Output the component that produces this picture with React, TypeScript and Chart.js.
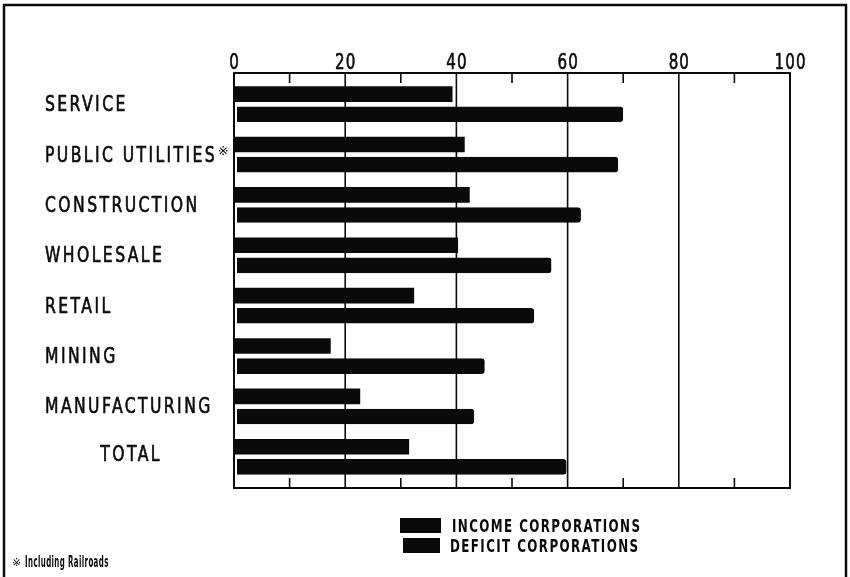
import React, { useEffect, useRef } from 'react';
import { Chart, registerables } from 'chart.js';

Chart.register(...registerables);

// ---- data ----
const categories = ['SERVICE', 'PUBLIC UTILITIES※', 'CONSTRUCTION', 'WHOLESALE', 'RETAIL', 'MINING', 'MANUFACTURING', 'TOTAL'];
const incomeValues = [39.3, 41.5, 42.4, 40.3, 32.4, 17.4, 22.7, 31.5];
const deficitValues = [70.0, 69.1, 62.4, 57.1, 54.0, 45.1, 43.2, 59.8];
const seriesLabels = ['INCOME CORPORATIONS', 'DEFICIT CORPORATIONS'];
const majorTickStep = 20;
const minorTickStep = 10;
const footnoteMark = '※';
const footnoteText = 'Including Railroads';
const totalLabel = 'TOTAL';

// ---- style ----
const INK = '#0a0a0a';
const FAMILY = '"DejaVu Sans", sans-serif';
const FRAME_PAD = 6;

type TextOpts = { size: number; weight?: string; sx: number; spacing: number; align?: 'left' | 'center'; thicken?: number };

function drawText(ctx: CanvasRenderingContext2D, text: string, x: number, y: number, o: TextOpts) {
  ctx.save();
  ctx.font = `${o.weight || 'normal'} ${o.size}px ${FAMILY}`;
  (ctx as any).letterSpacing = `${o.spacing}px`;
  ctx.textBaseline = 'alphabetic';
  ctx.textAlign = 'left';
  const w = (ctx.measureText(text).width - o.spacing) * o.sx;
  const startX = o.align === 'center' ? x - w / 2 : x;
  ctx.translate(startX, y);
  ctx.scale(o.sx, 1);
  ctx.fillStyle = INK;
  ctx.fillText(text, 0, 0);
  if (o.thicken) {
    ctx.strokeStyle = INK;
    ctx.lineWidth = o.thicken;
    ctx.lineJoin = 'round';
    ctx.strokeText(text, 0, 0);
  }
  ctx.restore();
  return w;
}

const LABEL_FONT: TextOpts = { size: 22, sx: 0.71, spacing: 3.4, thicken: 0.7 };
const TICK_FONT: TextOpts = { size: 21, sx: 0.72, spacing: 1.5, align: 'center', thicken: 0.6 };
const LEGEND_FONT: TextOpts = { size: 17, weight: 'bold', sx: 0.7, spacing: 2 };

const decorPlugin = {
  id: 'decor',
  beforeDraw(chart: any) {
    const ctx = chart.ctx;
    ctx.save();
    ctx.fillStyle = '#ffffff';
    ctx.fillRect(0, 0, chart.width, chart.height);
    ctx.restore();
  },
  beforeDatasetsDraw(chart: any) {
    const { ctx, chartArea: a, scales } = chart;
    const x = scales.x;
    const top = a.top - FRAME_PAD;
    const bottom = a.bottom + FRAME_PAD;
    ctx.save();
    ctx.strokeStyle = INK;
    ctx.lineWidth = 1.6;
    x.ticks.forEach((t: any) => {
      const px = x.getPixelForValue(t.value);
      ctx.beginPath();
      if (t.value % majorTickStep === 0) {
        if (t.value > x.min && t.value < x.max) {
          ctx.moveTo(px, top);
          ctx.lineTo(px, bottom);
        }
      } else {
        ctx.moveTo(px, top);
        ctx.lineTo(px, top + 10);
        ctx.moveTo(px, bottom);
        ctx.lineTo(px, bottom - 10);
      }
      ctx.stroke();
    });
    ctx.restore();
  },
  afterDatasetsDraw(chart: any) {
    const { ctx, chartArea: a, scales } = chart;
    const x = scales.x;
    const y = scales.y;
    const top = a.top - FRAME_PAD;
    const bottom = a.bottom + FRAME_PAD;
    ctx.save();
    // plot frame
    ctx.strokeStyle = INK;
    ctx.lineWidth = 2;
    ctx.strokeRect(a.left, top, a.right - a.left, bottom - top);

    // outer border (open at the bottom)
    ctx.lineWidth = 2.5;
    ctx.beginPath();
    ctx.moveTo(4, chart.height + 5);
    ctx.lineTo(4, 5);
    ctx.lineTo(846, 5);
    ctx.lineTo(846, chart.height + 5);
    ctx.stroke();
    ctx.restore();

    // x tick labels (top)
    x.ticks.forEach((t: any) => {
      if (t.label === '' || t.label == null) return;
      drawText(ctx, String(t.label), x.getPixelForValue(t.value), top - 4, TICK_FONT);
    });

    // category labels
    const labelX = 45;
    ctx.save();
    ctx.font = `normal ${LABEL_FONT.size}px ${FAMILY}`;
    (ctx as any).letterSpacing = `${LABEL_FONT.spacing}px`;
    const maxW = Math.max(
      ...categories.map((c) => (ctx.measureText(c.replace(footnoteMark, '')).width - LABEL_FONT.spacing) * LABEL_FONT.sx)
    );
    ctx.restore();
    categories.forEach((c, i) => {
      const base = y.getPixelForValue(i) + 7;
      if (c === totalLabel) {
        drawText(ctx, c, labelX + maxW / 2, base - 3, { ...LABEL_FONT, align: 'center' });
      } else if (c.endsWith(footnoteMark)) {
        const main = c.slice(0, -footnoteMark.length);
        const w = drawText(ctx, main, labelX, base, LABEL_FONT);
        drawText(ctx, footnoteMark, labelX + w + 3, base - 7, { size: 13, sx: 1, spacing: 0 });
      } else {
        drawText(ctx, c, labelX, base, LABEL_FONT);
      }
    });

    // legend
    const ds = chart.data.datasets;
    ds.forEach((d: any, i: number) => {
      const boxX = i === 0 ? 400 : 403;
      const boxY = 518 + i * 20;
      ctx.save();
      ctx.fillStyle = d.backgroundColor;
      ctx.fillRect(boxX, boxY, i === 0 ? 41 : 37, 15);
      ctx.restore();
      drawText(ctx, d.label, i === 0 ? 452 : 450, boxY + 14, LEGEND_FONT);
    });

    // footnote
    drawText(ctx, footnoteMark, 12, 566, { size: 11, sx: 1, spacing: 0 });
    drawText(ctx, footnoteText, 25, 567, { size: 15, weight: 'bold', sx: 0.47, spacing: 0.8 });
  },
};

export default function App() {
  const canvasRef = useRef<HTMLCanvasElement | null>(null);

  useEffect(() => {
    const canvas = canvasRef.current;
    if (!canvas) return;
    const chart = new Chart(canvas, {
      type: 'bar',
      data: {
        labels: categories,
        datasets: [
          {
            label: seriesLabels[0],
            data: incomeValues,
            backgroundColor: INK,
            borderWidth: 0,
            categoryPercentage: 0.8,
            barPercentage: 0.78,
          },
          {
            label: seriesLabels[1],
            data: deficitValues,
            backgroundColor: INK,
            borderColor: '#ffffff',
            borderWidth: { left: 3, top: 0, right: 0, bottom: 0 },
            borderSkipped: false,
            borderRadius: 3,
            categoryPercentage: 0.8,
            barPercentage: 0.78,
          },
        ],
      },
      options: {
        indexAxis: 'y',
        responsive: false,
        animation: false,
        layout: { padding: { left: 234, right: 60, top: 79, bottom: 95 } },
        plugins: {
          legend: { display: false },
          tooltip: { enabled: false },
        },
        scales: {
          x: {
            type: 'linear',
            position: 'top',
            display: false,
            min: 0,
            max: 100,
            ticks: {
              stepSize: minorTickStep,
              autoSkip: false,
              callback: (v: any) => (Number(v) % majorTickStep === 0 ? String(v) : ''),
            },
          },
          y: {
            type: 'category',
            display: false,
            offset: true,
          },
        },
      },
      plugins: [decorPlugin],
    });
    return () => chart.destroy();
  }, []);

  return (
    <div style={{ position: 'absolute', left: 0, top: 0, width: 850, height: 577, background: '#fff' }}>
      <canvas ref={canvasRef} width={850} height={577} style={{ display: 'block' }} />
    </div>
  );
}
